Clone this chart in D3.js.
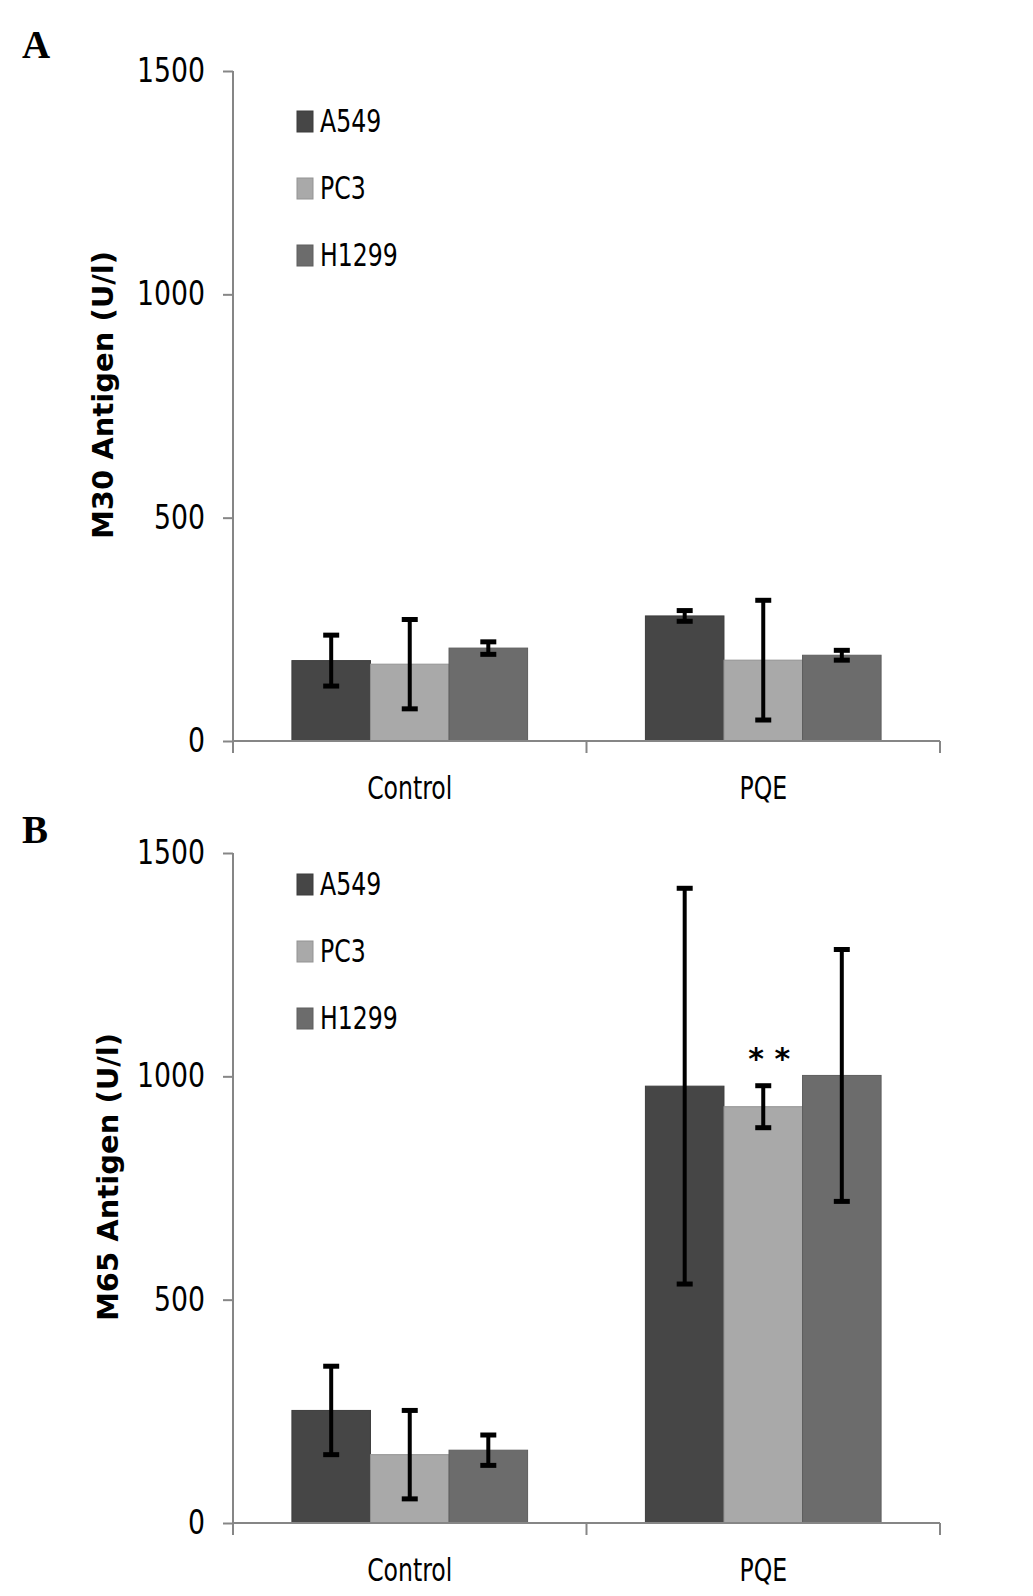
<!DOCTYPE html>
<html>
<head>
<meta charset="utf-8">
<script src="https://cdn.jsdelivr.net/npm/d3@7"></script>
<style>
  body { margin: 0; background: #fff; }
  svg { display: block; }
  .tick text, .cat, .leg { font-family: 'Liberation Sans Narrow', 'DejaVu Sans Condensed', sans-serif; font-size: 32px; fill: #000; }
  .tick text { font-size: 33px; }
</style>
</head>
<body>
<svg id="chart" width="1033" height="1596"></svg>
<script>
var categories = ['Control', 'PQE'];
var series = ['A549', 'PC3', 'H1299'];
var seriesColors = ['#464646', '#a9a9a9', '#6c6c6c'];
var yTicks = [0, 500, 1000, 1500];

// panel A: M30
var m30Means = [[180, 172, 208], [280, 181, 192]];
var m30Errors = [[57, 100, 14], [12, 134, 11]];
// panel B: M65
var m65Means = [[252, 153, 163], [978, 932, 1002]];
var m65Errors = [[99, 99, 34], [443, 47, 282]];

var panels = [
    { letter: 'A', title: 'M30 Antigen (U/l)', means: m30Means, errors: m30Errors, top: 71, bottom: 741, letterY: 58, titleX: 113, stars: null, legendTop: 111 },
    { letter: 'B', title: 'M65 Antigen (U/l)', means: m65Means, errors: m65Errors, top: 853, bottom: 1523, letterY: 843, titleX: 118, stars: [1, 1], legendTop: 874 }
];

var svg = d3.select('#chart');
var axisLeft = 233, axisRight = 940;

// move x/y into a transform so the glyphs can be narrowed around their anchor
// (the fallback font is wider than the original narrow one)
function narrow(sel, sx) {
    sel.each(function() {
        var t = d3.select(this);
        var x = +t.attr('x') || 0, y = +t.attr('y') || 0;
        t.attr('x', 0).attr('y', 0)
            .attr('transform', 'translate(' + x + ',' + y + ') scale(' + sx + ',1)');
    });
}

panels.forEach(function(p) {
    var g = svg.append('g');

    var x0 = d3.scaleBand().domain(categories).range([axisLeft, axisRight]).padding(0);
    var bw = x0.bandwidth();
    var x1 = d3.scaleBand().domain(series).range([bw / 6, bw * 5 / 6]).padding(0);
    var y = d3.scaleLinear().domain([0, 1500]).range([p.bottom, p.top]);

    // bars
    categories.forEach(function(cat, ci) {
        series.forEach(function(s, si) {
            var v = p.means[ci][si];
            g.append('rect')
                .attr('x', x0(cat) + x1(s))
                .attr('y', y(v))
                .attr('width', x1.bandwidth())
                .attr('height', y(0) - y(v))
                .attr('fill', seriesColors[si])
                .attr('stroke', d3.color(seriesColors[si]).darker(0.4))
                .attr('stroke-width', 1);
        });
    });

    // error bars
    categories.forEach(function(cat, ci) {
        series.forEach(function(s, si) {
            var v = p.means[ci][si], e = p.errors[ci][si];
            var cx = x0(cat) + x1(s) + x1.bandwidth() / 2;
            var eb = g.append('g').attr('stroke', '#000');
            eb.append('line').attr('x1', cx).attr('x2', cx).attr('y1', y(v + e)).attr('y2', y(v - e)).attr('stroke-width', 4);
            [v + e, v - e].forEach(function(val) {
                eb.append('line').attr('x1', cx - 8).attr('x2', cx + 8).attr('y1', y(val)).attr('y2', y(val)).attr('stroke-width', 5);
            });
        });
    });

    // significance marks
    if (p.stars) {
        var ci = p.stars[0], si = p.stars[1];
        g.append('text')
            .attr('x', x0(categories[ci]) + x1(series[si]) + x1.bandwidth() / 2 + 6)
            .attr('y', y(p.means[ci][si] + p.errors[ci][si]) - 17)
            .attr('text-anchor', 'middle')
            .attr('style', 'font-family: DejaVu Sans; font-size: 30px; font-weight: bold')
            .attr('xml:space', 'preserve')
            .text('* *');
    }

    // y axis
    var yAxis = d3.axisLeft(y).tickValues(yTicks).tickSize(10).tickPadding(18).tickFormat(d3.format('d'));
    var ya = g.append('g').attr('transform', 'translate(' + axisLeft + ',0)').call(yAxis);
    ya.selectAll('path, line').attr('stroke', '#868686').attr('stroke-width', 2);
    ya.select('.domain').attr('d', 'M0,' + p.top + 'V' + p.bottom);
    ya.selectAll('.tick text').attr('font-family', null).attr('font-size', null).call(narrow, 0.9);

    // x axis
    var xa = g.append('g').attr('transform', 'translate(0,' + p.bottom + ')');
    xa.append('line').attr('x1', axisLeft).attr('x2', axisRight).attr('stroke', '#868686').attr('stroke-width', 2);
    var bounds = categories.map(function(c) { return x0(c); }).concat([axisRight]);
    xa.selectAll('.xt').data(bounds).enter().append('line')
        .attr('x1', function(d) { return d; }).attr('x2', function(d) { return d; })
        .attr('y1', 0).attr('y2', 12)
        .attr('stroke', '#868686').attr('stroke-width', 2);
    xa.selectAll('.cat').data(categories).enter().append('text')
        .attr('class', 'cat')
        .attr('x', function(d) { return x0(d) + bw / 2; })
        .attr('y', 58)
        .attr('text-anchor', 'middle')
        .text(function(d) { return d; })
        .call(narrow, 0.82);

    // axis title
    g.append('text')
        .attr('transform', 'translate(' + p.titleX + ',' + ((p.top + p.bottom) / 2 - 11) + ') rotate(-90)')
        .attr('text-anchor', 'middle')
        .attr('style', 'font-family: DejaVu Sans; font-size: 29px; font-weight: bold')
        .text(p.title);

    // panel letter
    g.append('text')
        .attr('x', 22).attr('y', p.letterY)
        .attr('style', 'font-family: Liberation Serif; font-size: 39px; font-weight: bold')
        .text(p.letter);

    // legend
    series.forEach(function(s, si) {
        var ly = p.legendTop + si * 67;
        g.append('rect').attr('x', 297).attr('y', ly).attr('width', 16).attr('height', 21)
            .attr('fill', seriesColors[si]).attr('stroke', d3.color(seriesColors[si]).darker(0.4));
        g.append('text').attr('class', 'leg').attr('x', 320).attr('y', ly + 21).text(s).call(narrow, 0.82);
    });
});
</script>
</body>
</html>
